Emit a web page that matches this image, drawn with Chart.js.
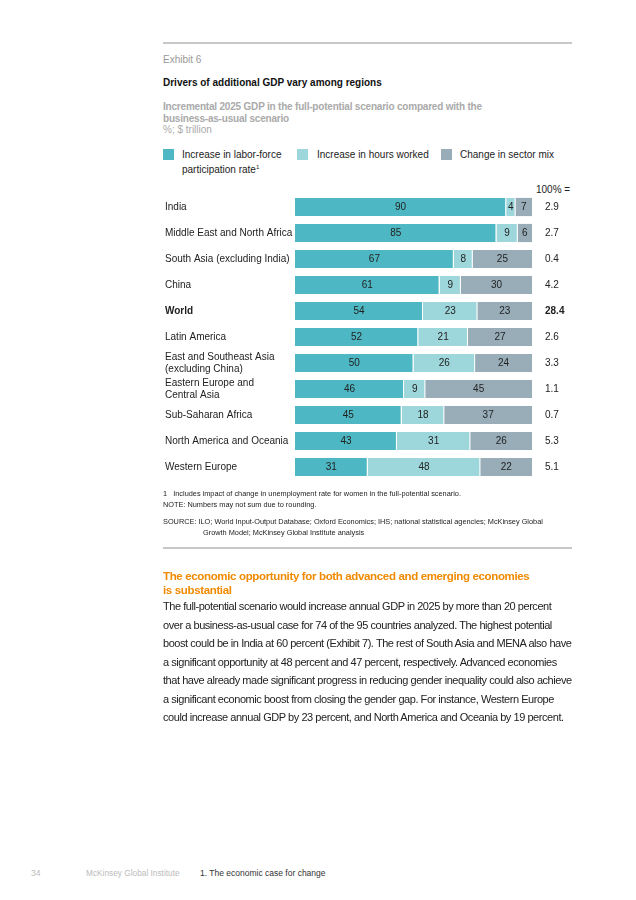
<!DOCTYPE html>
<html>
<head>
<meta charset="utf-8">
<script src="https://cdn.jsdelivr.net/npm/chart.js@4"></script>
<style>
    body { margin: 0; background: #fff; font-family: "Liberation Sans", Arial, sans-serif; color: #222; }
    .page { position: relative; width: 636px; height: 900px; }
    .abs { position: absolute; white-space: nowrap; }
    .rule { position: absolute; left: 163px; width: 409px; height: 2px; background: #c8c8c8; }
    .sw { position: absolute; width: 11px; height: 11px; }
    .lg { position: absolute; font-size: 10px; line-height: 12px; color: #222; white-space: nowrap; }
</style>
</head>
<body>
<div class="page">
    <div class="rule" style="top:42px"></div>
    <div class="abs" style="left:163px;top:54px;font-size:10px;color:#999">Exhibit 6</div>
    <div class="abs" style="left:163px;top:77px;font-size:10px;font-weight:bold;color:#111">Drivers of additional GDP vary among regions</div>
    <div class="abs" style="left:163px;top:101px;font-size:10px;line-height:12px;font-weight:bold;color:#aaa;letter-spacing:-0.2px">Incremental 2025 GDP in the full-potential scenario compared with the<br>business-as-usual scenario</div>
    <div class="abs" style="left:163px;top:124px;font-size:10px;color:#aaa">%; $ trillion</div>

    <div class="sw" id="sw0" style="left:163px;top:149px"></div>
    <div class="lg" style="left:182px;top:149px">Increase in labor-force<br>participation rate<sup style="font-size:6px">1</sup></div>
    <div class="sw" id="sw1" style="left:297px;top:149px"></div>
    <div class="lg" style="left:317px;top:149px">Increase in hours worked</div>
    <div class="sw" id="sw2" style="left:441px;top:149px"></div>
    <div class="lg" style="left:460px;top:149px">Change in sector mix</div>

    <div class="abs" style="left:536px;top:184px;font-size:10px">100% =</div>

    <div class="abs" style="left:165px;top:183px;width:415px;height:308px">
        <canvas id="chart"></canvas>
    </div>

    <div class="abs" style="left:163px;top:488px;font-size:7.35px;line-height:11px">1&nbsp;&nbsp;&nbsp;Includes impact of change in unemployment rate for women in the full-potential scenario.<br>NOTE: Numbers may not sum due to rounding.</div>
    <div class="abs" style="left:163px;top:516px;font-size:7.35px;line-height:11px">SOURCE: ILO; World Input-Output Database; Oxford Economics; IHS; national statistical agencies; McKinsey Global<br><span style="padding-left:40px">Growth Model; McKinsey Global Institute analysis</span></div>
    <div class="rule" style="top:547px"></div>

    <div class="abs" style="left:163px;top:569px;font-size:11.5px;line-height:14px;font-weight:bold;color:#f08a00;letter-spacing:-0.35px">The economic opportunity for both advanced and emerging economies<br>is substantial</div>
    <div class="abs" style="left:163px;top:597px;font-size:11px;line-height:18.5px;color:#222;letter-spacing:-0.45px">The full-potential scenario would increase annual GDP in 2025 by more than 20 percent<br>over a business-as-usual case for 74 of the 95 countries analyzed. The highest potential<br>boost could be in India at 60 percent (Exhibit 7). The rest of South Asia and MENA also have<br>a significant opportunity at 48 percent and 47 percent, respectively. Advanced economies<br>that have already made significant progress in reducing gender inequality could also achieve<br>a significant economic boost from closing the gender gap. For instance, Western Europe<br>could increase annual GDP by 23 percent, and North America and Oceania by 19 percent.</div>

    <div class="abs" style="left:31px;top:868px;font-size:8.5px;color:#bbb">34</div>
    <div class="abs" style="left:86px;top:868px;font-size:8.3px;color:#bbb">McKinsey Global Institute</div>
    <div class="abs" style="left:200px;top:868px;font-size:8.5px;color:#333">1. The economic case for change</div>
</div>
<script>
var regions = [
    "India",
    "Middle East and North Africa",
    "South Asia (excluding India)",
    "China",
    "World",
    "Latin America",
    ["East and Southeast Asia", "(excluding China)"],
    ["Eastern Europe and", "Central Asia"],
    "Sub-Saharan Africa",
    "North America and Oceania",
    "Western Europe",
];
var laborForce = [90, 85, 67, 61, 54, 52, 50, 46, 45, 43, 31];
var hoursWorked = [4, 9, 8, 9, 23, 21, 26, 9, 18, 31, 48];
var sectorMix = [7, 6, 25, 30, 23, 27, 24, 45, 37, 26, 22];
var totals = ["2.9", "2.7", "0.4", "4.2", "28.4", "2.6", "3.3", "1.1", "0.7", "5.3", "5.1"];
var boldRow = 4;

var colors = ["#4db8c3", "#9dd7db", "#98adb8"];
var series = [laborForce, hoursWorked, sectorMix];
var names = ["Increase in labor-force participation rate", "Increase in hours worked", "Change in sector mix"];

colors.forEach((c, i) => { document.getElementById("sw" + i).style.background = c; });

// bars fill to 100% even where rounded values don't sum exactly
var sums = laborForce.map((v, i) => v + hoursWorked[i] + sectorMix[i]);

var segmentLabels = {
    id: "segmentLabels",
    afterDatasetsDraw(chart) {
        var ctx = chart.ctx;
        ctx.save();
        ctx.font = "10px 'Liberation Sans', Arial, sans-serif";
        ctx.fillStyle = "#222";
        ctx.textAlign = "center";
        ctx.textBaseline = "middle";
        chart.data.datasets.forEach((ds, d) => {
            chart.getDatasetMeta(d).data.forEach((bar, i) => {
                var cx = (bar.x + bar.base) / 2;
                ctx.fillText(series[d][i], cx, bar.y + 0.5);
            });
        });
        ctx.restore();
    },
};

var tickFont = (c) => ({
    family: "'Liberation Sans', Arial, sans-serif",
    size: 10,
    weight: c.index === boldRow ? "bold" : "normal",
});

var ctx = document.getElementById("chart").getContext("2d");
var myChart = new Chart(ctx, {
    type: "bar",
    data: {
        labels: regions,
        datasets: series.map((s, d) => ({
            label: names[d],
            data: s.map((v, i) => (v / sums[i]) * 100),
            backgroundColor: colors[d],
            borderColor: "#ffffff",
            borderWidth: { left: 0, right: d < 2 ? 1 : 0, top: 0, bottom: 0 },
            borderSkipped: false,
            barPercentage: 0.7,
            categoryPercentage: 1,
        })),
    },
    options: {
        indexAxis: "y",
        responsive: true,
        maintainAspectRatio: false,
        animation: false,
        layout: { padding: 0 },
        scales: {
            x: {
                stacked: true,
                min: 0,
                max: 100,
                display: false,
            },
            y: {
                stacked: true,
                grid: { display: false },
                border: { display: false },
                afterFit: (s) => { s.width = 130; },
                ticks: {
                    autoSkip: false,
                    crossAlign: "far",
                    color: "#222",
                    font: tickFont,
                    padding: 0,
                },
            },
            y2: {
                type: "category",
                position: "right",
                labels: totals,
                offset: true,
                grid: { display: false },
                border: { display: false },
                afterFit: (s) => { s.width = 48; },
                ticks: {
                    autoSkip: false,
                    crossAlign: "near",
                    color: "#222",
                    font: tickFont,
                    padding: 5,
                },
            },
        },
        plugins: {
            legend: { display: false },
            tooltip: { enabled: false },
        },
    },
    plugins: [segmentLabels],
});
</script>
</body>
</html>
